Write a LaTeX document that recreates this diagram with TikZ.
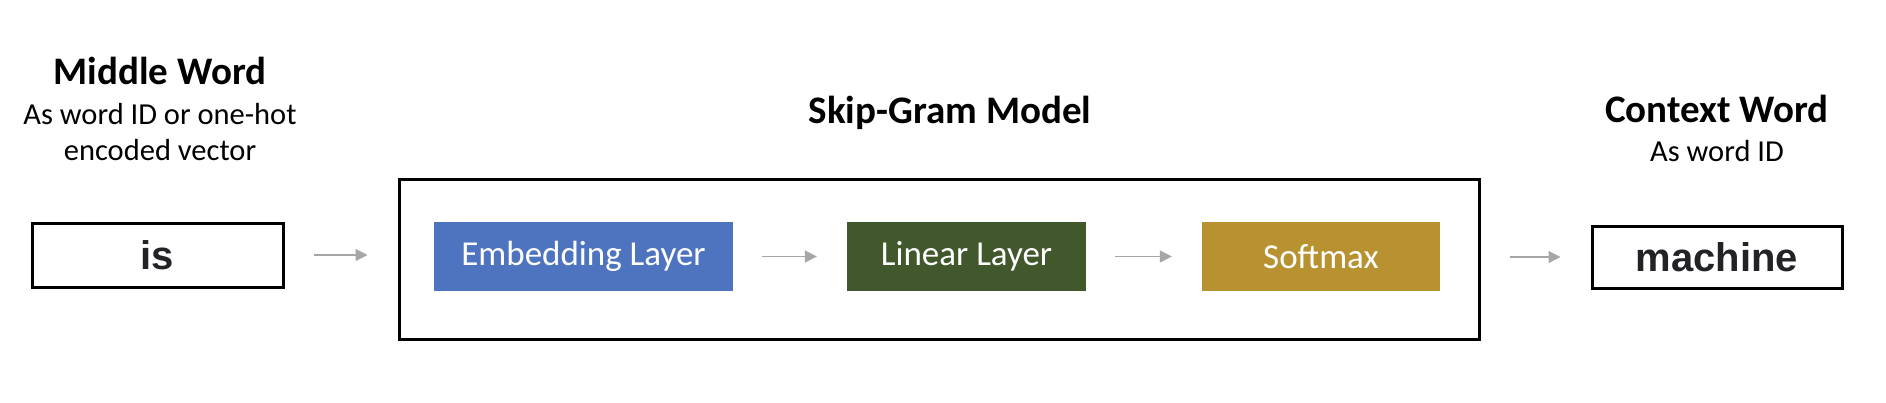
\documentclass[tikz,border=0pt]{standalone}
\usepackage{fontspec}
\setmainfont{Carlito}
\newfontfamily\wordfont{Liberation Sans}
\usetikzlibrary{arrows.meta}
\definecolor{embedblue}{HTML}{4E74BF}
\definecolor{lineargreen}{HTML}{40582B}
\definecolor{softgold}{HTML}{B89231}
\definecolor{arrowgray}{HTML}{A6A6A6}
\definecolor{worddark}{HTML}{222326}
\tikzset{
  title/.style={anchor=base, font=\fontsize{39}{46}\selectfont\bfseries},
  subtitle/.style={anchor=base, font=\fontsize{30.5}{36}\selectfont},
  wordbox/.style={draw, line width=3pt, inner sep=0pt, text=worddark,
    font=\fontsize{40}{48}\selectfont\wordfont\bfseries},
  layerbox/.style={inner sep=0pt, text=white, minimum height=69pt,
    font=\fontsize{35}{42}\selectfont},
  flowarrow/.style={-{Triangle[length=12pt, width=12pt]}, arrowgray,
    line width=1.2pt, shorten <=29pt, shorten >=30pt}
}
\begin{document}
\begin{tikzpicture}[x=1pt, y=-1pt]
    \useasboundingbox (0,0) rectangle (1886,402);

    % Middle word
    \node[title] (midtitle) at (160,84) {Middle Word};
    \node[subtitle] (midsub1) at (160,124) {As word ID or one-hot};
    \node[subtitle] (midsub2) at (160,160) {encoded vector};
    \node[wordbox, minimum width=251pt, minimum height=64pt] (is) at (157.5,255) {is};

    % Skip-gram model
    \node[title] (modeltitle) at (950,123) {Skip-Gram Model};
    \node[draw, line width=3pt, minimum width=1080pt, minimum height=160pt] (model) at (939,259) {};
    \node[layerbox, fill=embedblue, minimum width=299pt] (embed) at (583.5,256.5) {Embedding Layer};
    \node[layerbox, fill=lineargreen, minimum width=239pt] (linear) at (966.5,256.5) {Linear Layer};
    \node[layerbox, fill=softgold, minimum width=238pt] (softmax) at (1321,256.5) {Softmax};

    % Context word
    \node[title] (ctxtitle) at (1717,122) {Context Word};
    \node[subtitle] (ctxsub) at (1717,161) {As word ID};
    \node[wordbox, minimum width=250pt, minimum height=62pt] (machine) at (1717,257) {machine};

    % Arrows
    \draw[flowarrow] (is.east) -- (is.east -| model.west);
    \draw[flowarrow] (embed) -- (linear);
    \draw[flowarrow] (linear) -- (softmax);
    \draw[flowarrow] (model.east |- machine.west) -- (machine.west);
\end{tikzpicture}
\end{document}
